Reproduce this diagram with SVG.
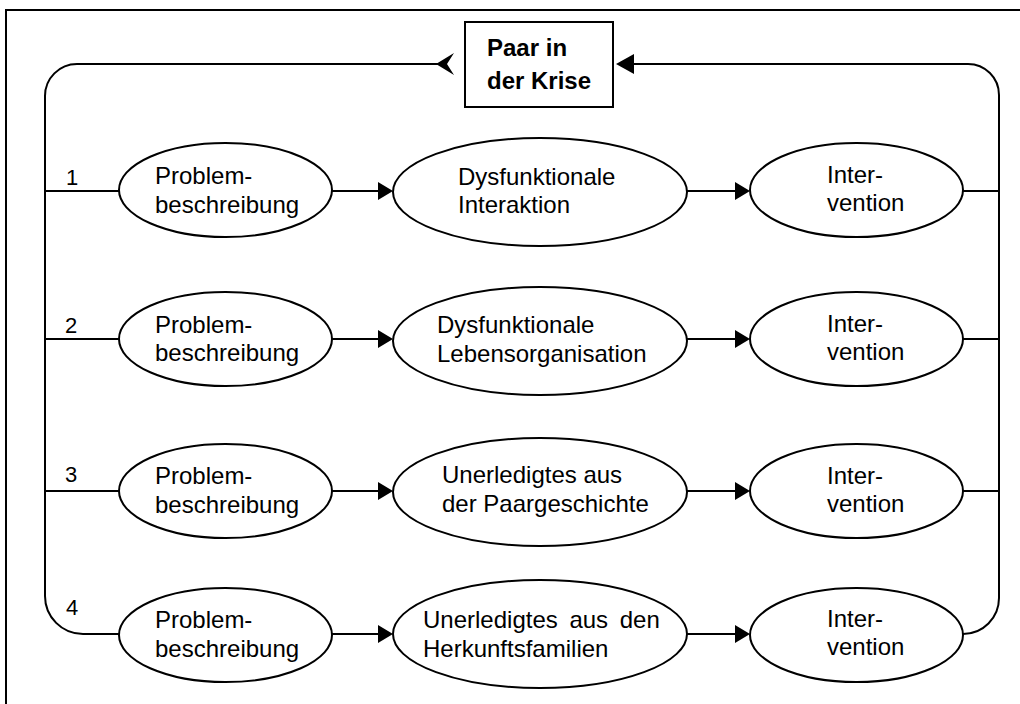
<svg xmlns="http://www.w3.org/2000/svg" width="1020" height="704" viewBox="0 0 1020 704">
<style>
.ln{fill:none;stroke:#000;stroke-width:2}
.el{fill:#fff;stroke:#000;stroke-width:2}
.t{font-family:"Liberation Sans",Arial,sans-serif;font-size:24px;fill:#000}
.b{font-family:"Liberation Sans",Arial,sans-serif;font-size:24px;font-weight:bold;fill:#000}
.n{font-family:"Liberation Sans",Arial,sans-serif;font-size:22px;fill:#000}
.ah{fill:#000;stroke:none}
</style>
<rect width="1020" height="704" fill="#fff"/>
<g id="frame"><path class="ln" d="M6,704 V10 H1020"/></g>
<g id="connectors">
<path class="ln" d="M438,64 H77 A32,32 0 0 0 45,96 V596 A38,38 0 0 0 83,634 H119"/>
<path class="ah" d="M436,64 L454,53 L447,64 L454,75 Z"/>
<path class="ln" d="M633,64 H968 A31,31 0 0 1 999,95 V598 A36,36 0 0 1 963,634"/>
<path class="ah" d="M616,64 L634,54 L634,74 Z"/>
<path class="ln" d="M45,191 H119 M45,339 H119 M45,491 H119"/>
<path class="ln" d="M963,191 H999 M963,339 H999 M963,491 H999"/>
<path class="ln" d="M332,191 H379 M687,191 H736 M332,339 H379 M687,339 H736 M332,491 H379 M687,491 H736 M332,634 H379 M687,634 H736"/>
<path class="ah" d="M393,191 l-15,-9 v18 Z M750,191 l-15,-9 v18 Z M393,339 l-15,-9 v18 Z M750,339 l-15,-9 v18 Z M393,491 l-15,-9 v18 Z M750,491 l-15,-9 v18 Z M393,634 l-15,-9 v18 Z M750,634 l-15,-9 v18 Z"/>
<text class="n" x="66" y="185">1</text>
<text class="n" x="65" y="333">2</text>
<text class="n" x="65" y="482">3</text>
<text class="n" x="66" y="615">4</text>
</g>
<g id="krise">
<rect class="el" x="465" y="22" width="148" height="85"/>
<text class="b" x="487" y="56">Paar in</text>
<text class="b" x="487" y="89">der Krise</text>
</g>
<g id="p1"><ellipse class="el" cx="225.5" cy="190" rx="106.5" ry="47"/><text class="t" x="155" y="184">Problem-</text><text class="t" x="155" y="213">beschreibung</text></g>
<g id="m1"><ellipse class="el" cx="540" cy="192" rx="147" ry="54"/><text class="t" x="458" y="185">Dysfunktionale</text><text class="t" x="458" y="213">Interaktion</text></g>
<g id="i1"><ellipse class="el" cx="856.5" cy="190" rx="106.5" ry="47"/><text class="t" x="827" y="183">Inter-</text><text class="t" x="827" y="211">vention</text></g>
<g id="p2"><ellipse class="el" cx="225.5" cy="339" rx="106.5" ry="47"/><text class="t" x="155" y="333">Problem-</text><text class="t" x="155" y="361">beschreibung</text></g>
<g id="m2"><ellipse class="el" cx="540" cy="341" rx="147" ry="54"/><text class="t" x="437" y="333">Dysfunktionale</text><text class="t" x="437" y="362">Lebensorganisation</text></g>
<g id="i2"><ellipse class="el" cx="856.5" cy="339" rx="106.5" ry="47"/><text class="t" x="827" y="332">Inter-</text><text class="t" x="827" y="360">vention</text></g>
<g id="p3"><ellipse class="el" cx="225.5" cy="491" rx="106.5" ry="47"/><text class="t" x="155" y="484">Problem-</text><text class="t" x="155" y="513">beschreibung</text></g>
<g id="m3"><ellipse class="el" cx="540" cy="492" rx="147" ry="54"/><text class="t" x="442" y="483">Unerledigtes aus</text><text class="t" x="442" y="512">der Paargeschichte</text></g>
<g id="i3"><ellipse class="el" cx="856.5" cy="491" rx="106.5" ry="47"/><text class="t" x="827" y="484">Inter-</text><text class="t" x="827" y="512">vention</text></g>
<g id="p4"><ellipse class="el" cx="225.5" cy="635" rx="106.5" ry="47"/><text class="t" x="155" y="628">Problem-</text><text class="t" x="155" y="657">beschreibung</text></g>
<g id="m4"><ellipse class="el" cx="540" cy="634" rx="147" ry="54"/><text class="t" x="423" y="628" word-spacing="5">Unerledigtes aus den</text><text class="t" x="423" y="657">Herkunftsfamilien</text></g>
<g id="i4"><ellipse class="el" cx="856.5" cy="635" rx="106.5" ry="47"/><text class="t" x="827" y="627">Inter-</text><text class="t" x="827" y="655">vention</text></g>
</svg>
